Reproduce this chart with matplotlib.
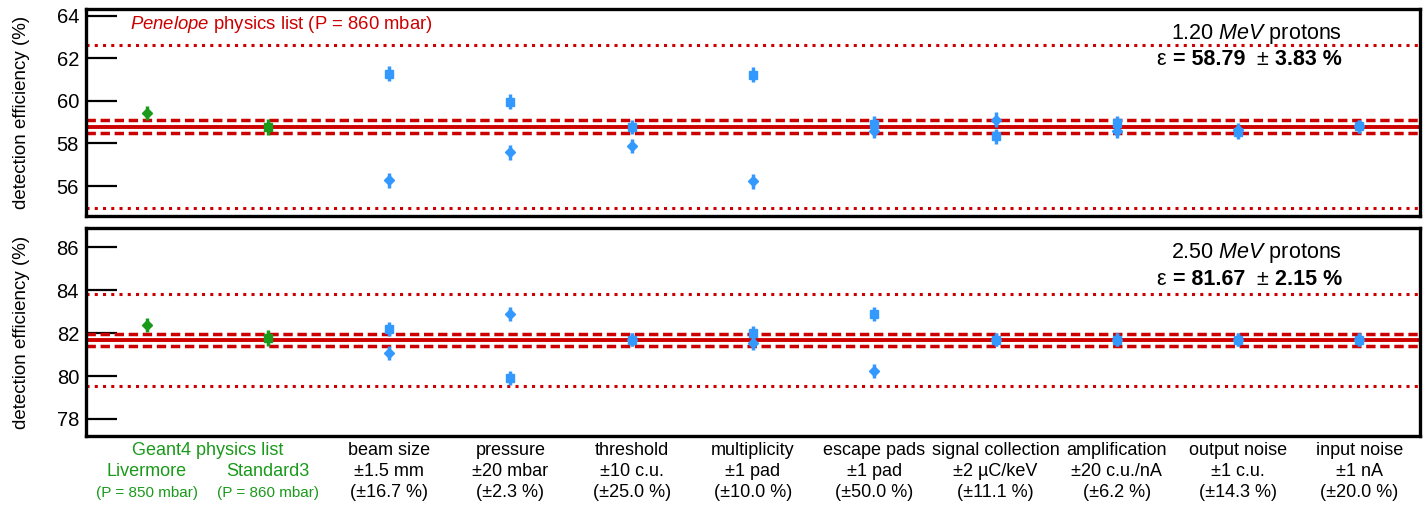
import matplotlib.pyplot as plt
from matplotlib.transforms import blended_transform_factory
import numpy as np

plt.rcParams['font.family'] = ['Liberation Sans', 'DejaVu Sans']
plt.rcParams['mathtext.fontset'] = 'custom'
plt.rcParams['mathtext.rm'] = 'Liberation Sans'
plt.rcParams['mathtext.it'] = 'Liberation Sans:italic'
plt.rcParams['mathtext.bf'] = 'Liberation Sans:bold'

# --- dati ---
g4_names = ['Livermore', 'Standard3']
g4_press = ['(P = 850 mbar)', '(P = 860 mbar)']
syst_names = ['beam size', 'pressure', 'threshold', 'multiplicity', 'escape pads',
              'signal collection', 'amplification', 'output noise', 'input noise']
syst_var = ['±1.5 mm', '±20 mbar', '±10 c.u.', '±1 pad', '±1 pad',
            '±2 µC/keV', '±20 c.u./nA', '±1 c.u.', '±1 nA']
syst_pct = ['(±16.7 %)', '(±2.3 %)', '(±25.0 %)', '(±10.0 %)', '(±50.0 %)',
            '(±11.1 %)', '(±6.2 %)', '(±14.3 %)', '(±20.0 %)']

# 1.20 MeV
e1_label = '1.20'
e1_mean, e1_stat, e1_syst = 58.79, 0.30, 3.83
e1_g4 = [59.42, 58.78]
e1_g4_err = [0.33, 0.36]
e1_sq = [61.27, 59.95, 58.77, 61.22, 58.92, 58.34, 58.95, 58.54, 58.80]
e1_dm = [56.27, 57.58, 57.90, 56.22, 58.60, 59.12, 58.60, 58.62, 58.80]
e1_err = [0.35, 0.35, 0.33, 0.35, 0.35, 0.35, 0.35, 0.33, 0.30]

# 2.50 MeV
e2_label = '2.50'
e2_mean, e2_stat, e2_syst = 81.67, 0.29, 2.15
e2_g4 = [82.39, 81.79]
e2_g4_err = [0.34, 0.37]
e2_sq = [82.19, 79.89, 81.69, 82.00, 82.90, 81.69, 81.69, 81.69, 81.69]
e2_dm = [81.06, 82.90, 81.69, 81.53, 80.23, 81.69, 81.69, 81.69, 81.69]
e2_err = [0.33, 0.33, 0.30, 0.33, 0.33, 0.30, 0.30, 0.30, 0.30]

red = '#cc0000'
green = '#1a9a1a'
blue = '#3399ff'

fig = plt.figure(figsize=(14.26, 5.07), dpi=100)
ax1 = fig.add_axes([0.0603, 0.574, 0.9355, 0.408])
ax2 = fig.add_axes([0.0603, 0.140, 0.9355, 0.410])

x_g4 = np.arange(len(g4_names))
x_sy = np.arange(len(syst_names)) + len(g4_names)


def pannello(ax, mean, stat, syst, g4, g4_err, sq, dm, err, ylim, ticks, energia):
    ax.axhline(mean, color=red, lw=2.8)
    ax.axhline(mean + stat, color=red, lw=2.5, ls=(0, (2.7, 1.35)))
    ax.axhline(mean - stat, color=red, lw=2.5, ls=(0, (2.7, 1.35)))
    ax.axhline(mean + syst, color=red, lw=2.2, ls=(0, (1, 1.7)))
    ax.axhline(mean - syst, color=red, lw=2.2, ls=(0, (1, 1.7)))

    ax.errorbar(x_g4[0], g4[0], yerr=g4_err[0], fmt='D', ms=5, color=green, elinewidth=2.5, capsize=0)
    ax.errorbar(x_g4[1], g4[1], yerr=g4_err[1], fmt='s', ms=6, color=green, elinewidth=2.5, capsize=0)
    ax.errorbar(x_sy, sq, yerr=err, fmt='s', ms=6, color=blue, elinewidth=2.5, capsize=0)
    ax.errorbar(x_sy, dm, yerr=err, fmt='D', ms=5, color=blue, elinewidth=2.5, capsize=0)

    ax.set_xlim(-0.5, 10.5)
    ax.set_ylim(*ylim)
    ax.set_yticks(ticks)
    ax.set_xticks([])
    ax.tick_params(axis='y', direction='in', length=22, width=1.6, labelsize=14.5, pad=5)
    for s in ax.spines.values():
        s.set_linewidth(2.4)
    ax.set_ylabel('detection efficiency (%)', fontsize=13.5, labelpad=19)

    ax.text(0.9415, 0.88, energia + r' $\mathit{MeV}$ protons', transform=ax.transAxes,
            ha='right', va='center', fontsize=15.5)
    # riga epsilon composta da pezzi (da destra verso sinistra)
    t = ax.text(0.9415, 0.755, '%.2f %%' % syst, transform=ax.transAxes,
                ha='right', va='center', fontsize=15.5, weight='bold')
    t = ax.annotate(' ± ', xy=(0, 0), xycoords=t, ha='right', va='bottom', fontsize=15.5)
    t = ax.annotate('= %.2f ' % mean, xy=(0, 0), xycoords=t, ha='right', va='bottom',
                    fontsize=15.5, weight='bold')
    ax.annotate('ε ', xy=(0, 0), xycoords=t, ha='right', va='bottom', fontsize=15.5)


pannello(ax1, e1_mean, e1_stat, e1_syst, e1_g4, e1_g4_err, e1_sq, e1_dm, e1_err,
         (54.6, 64.3), [56, 58, 60, 62, 64], e1_label)
pannello(ax2, e2_mean, e2_stat, e2_syst, e2_g4, e2_g4_err, e2_sq, e2_dm, e2_err,
         (77.2, 86.9), [78, 80, 82, 84, 86], e2_label)

ax1.text(0.033, 0.925, r'$\mathit{Penelope}$ physics list (P = 860 mbar)', transform=ax1.transAxes,
         color=red, ha='left', va='center', fontsize=13.3)

# etichette sotto il pannello inferiore
tr = blended_transform_factory(ax2.transData, ax2.transAxes)
ax2.text(x_g4.mean(), -0.072, 'Geant4 physics list', transform=tr, ha='center', va='center',
         color=green, fontsize=13)
for xi, n, p in zip(x_g4, g4_names, g4_press):
    ax2.text(xi, -0.173, n, transform=tr, ha='center', va='center', color=green, fontsize=13)
    ax2.text(xi, -0.274, p, transform=tr, ha='center', va='center', color=green, fontsize=11)
for xi, n, v, p in zip(x_sy, syst_names, syst_var, syst_pct):
    ax2.text(xi, -0.072, n, transform=tr, ha='center', va='center', fontsize=13)
    ax2.text(xi, -0.173, v, transform=tr, ha='center', va='center', fontsize=13)
    ax2.text(xi, -0.274, p, transform=tr, ha='center', va='center', fontsize=13)

fig.savefig('out.png', dpi=100)
